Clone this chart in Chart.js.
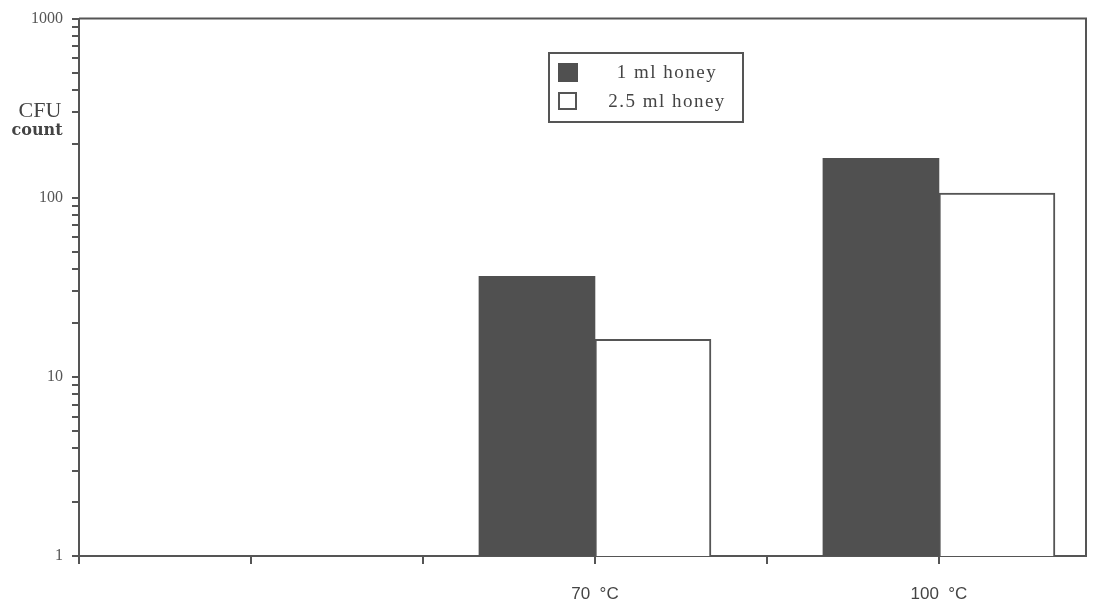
<!DOCTYPE html>
<html>
<head>
<meta charset="utf-8">
<script src="https://cdn.jsdelivr.net/npm/chart.js@4/dist/chart.umd.min.js"></script>
<style>
    body { margin: 0; background: #fff; }
    #wrap { width: 1097px; height: 604px; position: relative; }
</style>
</head>
<body>
<div id="wrap"><canvas id="cfuChart"></canvas></div>
<script>
// dados
const xTickLabels = ['', '', '', '70  °C', '', '100  °C'];
const categories = ['70  °C', '100  °C'];
const seriesNames = ['1 ml honey', '2.5 ml honey'];
const oneMlHoney = [36.4, 166];
const twoHalfMlHoney = [16.2, 106];
const yTickLabels = ['1', '10', '100', '1000'];

const axisColor = '#555555';
const darkFill = '#505050';

// caixa em volta da área do gráfico (topo e direita)
const frame = {
    id: 'frame',
    afterDatasetsDraw(chart) {
        const { ctx, chartArea: a } = chart;
        ctx.save();
        ctx.strokeStyle = axisColor;
        ctx.lineWidth = 2;
        ctx.beginPath();
        ctx.moveTo(a.left, a.top);
        ctx.lineTo(a.right, a.top);
        ctx.lineTo(a.right, a.bottom);
        ctx.stroke();
        ctx.restore();
    }
};

// título do eixo y na horizontal + legenda em caixa
const extras = {
    id: 'extras',
    afterDraw(chart) {
        const ctx = chart.ctx;
        ctx.save();
        ctx.fillStyle = '#444';
        ctx.textAlign = 'center';
        ctx.textBaseline = 'alphabetic';
        ctx.font = '22px "Liberation Serif"';
        ctx.fillText('CFU', 40, 117);
        ctx.font = 'bold 16px "DejaVu Serif"';
        ctx.fillText('count', 37, 135);

        // legenda
        ctx.strokeStyle = axisColor;
        ctx.lineWidth = 2;
        ctx.strokeRect(549, 53, 194, 69);
        const ds = chart.data.datasets;
        const rows = [72, 101];
        ds.forEach((d, i) => {
            const y = rows[i];
            if (i === 0) {
                ctx.fillStyle = d.backgroundColor;
                ctx.fillRect(558, y - 9, 20, 19);
            } else {
                ctx.fillStyle = '#fff';
                ctx.fillRect(558, y - 9, 19, 18);
                ctx.strokeRect(559, y - 8, 17, 16);
            }
            ctx.fillStyle = '#444';
            ctx.font = '19px "Liberation Serif"';
            ctx.letterSpacing = '1.5px';
            ctx.textBaseline = 'middle';
            ctx.fillText(d.label, 667, y + 1);
        });
        ctx.restore();
    }
};

const toPoints = vals => categories.map((c, i) => ({ x: xTickLabels.indexOf(c), y: vals[i] }));

new Chart(document.getElementById('cfuChart').getContext('2d'), {
    type: 'bar',
    data: {
        datasets: [
            {
                label: seriesNames[0],
                data: toPoints(oneMlHoney),
                backgroundColor: darkFill,
                borderColor: darkFill,
                borderWidth: 0,
                barThickness: 116
            },
            {
                label: seriesNames[1],
                data: toPoints(twoHalfMlHoney),
                backgroundColor: '#ffffff',
                borderColor: axisColor,
                borderWidth: 2,
                borderSkipped: 'start',
                barThickness: 116
            }
        ]
    },
    options: {
        responsive: true,
        maintainAspectRatio: false,
        animation: false,
        layout: { padding: { top: 18, right: 11, left: 0, bottom: 0 } },
        plugins: {
            legend: { display: false },
            tooltip: { enabled: false }
        },
        scales: {
            x: {
                type: 'linear',
                min: 0,
                max: 5.855,
                offset: false,
                afterFit: scale => { scale.height = 48; },
                border: { display: true, color: axisColor, width: 2 },
                grid: { offset: false, drawOnChartArea: false, drawTicks: true, tickLength: 8, color: axisColor, lineWidth: 2 },
                ticks: {
                    stepSize: 1,
                    includeBounds: false,
                    autoSkip: false,
                    maxRotation: 0,
                    padding: 20,
                    color: '#444',
                    font: { family: '"Liberation Sans", Arial, sans-serif', size: 17 },
                    callback: value => xTickLabels[value] || ''
                }
            },
            y: {
                type: 'logarithmic',
                min: 1,
                max: 1000,
                afterFit: scale => { scale.width = 79; },
                afterBuildTicks: scale => {
                    // só 1..9 × 10^n, sem o 1.5
                    scale.ticks = scale.ticks.filter(t => {
                        const m = t.value / Math.pow(10, Math.floor(Math.log10(t.value) + 1e-9));
                        return Math.abs(m - Math.round(m)) < 1e-6;
                    });
                },
                border: { display: true, color: axisColor, width: 2 },
                grid: { drawOnChartArea: false, drawTicks: true, tickLength: 7, color: axisColor, lineWidth: 2 },
                ticks: {
                    autoSkip: false,
                    padding: 9,
                    color: '#555',
                    font: { family: '"Liberation Serif", serif', size: 16 },
                    callback: value => yTickLabels.includes(String(value)) ? String(value) : ''
                }
            }
        }
    },
    plugins: [frame, extras]
});
</script>
</body>
</html>
